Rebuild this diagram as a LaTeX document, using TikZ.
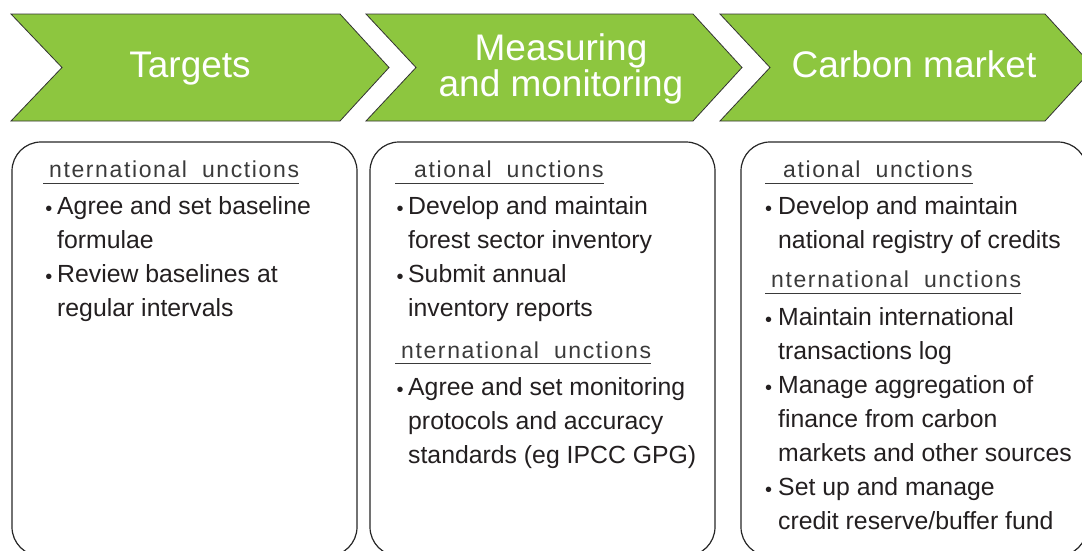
\documentclass[tikz,border=0pt]{standalone}
\usepackage{fontspec}
\setmainfont{Liberation Sans}
\newfontfamily\headfont[LetterSpace=7]{Liberation Sans}
\definecolor{chevgreen}{HTML}{8DC63F}
\definecolor{ink}{HTML}{231F20}
\definecolor{headgrey}{HTML}{3A3A3A}
\begin{document}
\begin{tikzpicture}[x=1pt,y=-1pt,
  chev/.style={fill=chevgreen, draw=black!80, line width=0.8pt, line join=miter},
  title/.style={text=white, font=\fontsize{37}{32}\selectfont, align=center, inner sep=0},
  panel/.style={draw=black!85, line width=1.2pt, rounded corners=29pt},
  body/.style={text=ink, font=\fontsize{24.8}{34}\selectfont, inner sep=0, anchor=base west},
  bul/.style={text=ink, font=\fontsize{20}{20}\selectfont, inner sep=0, anchor=base},
  head/.style={text=headgrey, font=\headfont\fontsize{23}{26}\selectfont, inner sep=0, anchor=base west},
  uline/.style={draw=headgrey, line width=1pt}]
\useasboundingbox (0,0) rectangle (1082,550);
\clip (0,0) rectangle (1082,550);

% chevrons
\path[chev] (11,14) -- (340,14) -- (389,67.5) -- (340,121) -- (11,121) -- (62,67.5) -- cycle;
\path[chev] (366,14) -- (693,14) -- (742,67.5) -- (693,121) -- (366,121) -- (416,67.5) -- cycle;
\path[chev] (720,14) -- (1045,14) -- (1094,67.5) -- (1045,121) -- (720,121) -- (770,67.5) -- cycle;
\node[title, anchor=base] (t1) at (190,77) {Targets};
\node[title] (t2) at (561,69) {Measuring\\and monitoring};
\node[title, anchor=base] (t3) at (914,77) {Carbon market};

% panels
\draw[panel] (12,142) rectangle (357,556);
\draw[panel] (370,142) rectangle (715,556);
\draw[panel] (741,142) rectangle (1087,556);

% panel 1
\node[head] (h11) at (43,177) {\hspace{6pt}nternational\hspace{15pt}unctions};
\draw[uline] ([yshift=-6pt]h11.base west) -- ([yshift=-6pt]h11.base east);
\node[bul] (p1b1) at (49,215) {•};
\node[body] (p1a) at (57,214) {Agree and set baseline};
\node[body] (p1b) at (57,248) {formulae};
\node[bul] (p1b2) at (49,283) {•};
\node[body] (p1c) at (57,282) {Review baselines at};
\node[body] (p1d) at (57,316) {regular intervals};

% panel 2
\node[head] (h21) at (395,177) {\hspace{19pt}ational\hspace{15pt}unctions};
\draw[uline] ([yshift=-6pt]h21.base west) -- ([yshift=-6pt]h21.base east);
\node[bul] (p2b1) at (400,215) {•};
\node[body] (p2a) at (408,214) {Develop and maintain};
\node[body] (p2b) at (408,248) {forest sector inventory};
\node[bul] (p2b2) at (400,283) {•};
\node[body] (p2c) at (408,282) {Submit annual};
\node[body] (p2d) at (408,316) {inventory reports};
\node[head] (h22) at (395,358) {\hspace{6pt}nternational\hspace{15pt}unctions};
\draw[uline] ([yshift=-5pt]h22.base west) -- ([yshift=-5pt]h22.base east);
\node[bul] (p2b3) at (400,396) {•};
\node[body] (p2e) at (408,395) {Agree and set monitoring};
\node[body] (p2f) at (408,429) {protocols and accuracy};
\node[body] (p2g) at (408,463) {standards (eg IPCC GPG)};

% panel 3
\node[head] (h31) at (765,177) {\hspace{18pt}ational\hspace{15pt}unctions};
\draw[uline] ([yshift=-6pt]h31.base west) -- ([yshift=-6pt]h31.base east);
\node[bul] (p3b1) at (768.5,215) {•};
\node[body] (p3a) at (778,214) {Develop and maintain};
\node[body] (p3b) at (778,248) {national registry of credits};
\node[head] (h32) at (765,287) {\hspace{6pt}nternational\hspace{15pt}unctions};
\draw[uline] ([yshift=-6pt]h32.base west) -- ([yshift=-6pt]h32.base east);
\node[bul] (p3b2) at (768.5,326) {•};
\node[body] (p3c) at (778,325) {Maintain international};
\node[body] (p3d) at (778,359) {transactions log};
\node[bul] (p3b3) at (768.5,394) {•};
\node[body] (p3e) at (778,393) {Manage aggregation of};
\node[body] (p3f) at (778,427) {finance from carbon};
\node[body] (p3g) at (778,461) {markets and other sources};
\node[bul] (p3b4) at (768.5,496) {•};
\node[body] (p3h) at (778,495) {Set up and manage};
\node[body] (p3i) at (778,529) {credit reserve/buffer fund};
\end{tikzpicture}
\end{document}
